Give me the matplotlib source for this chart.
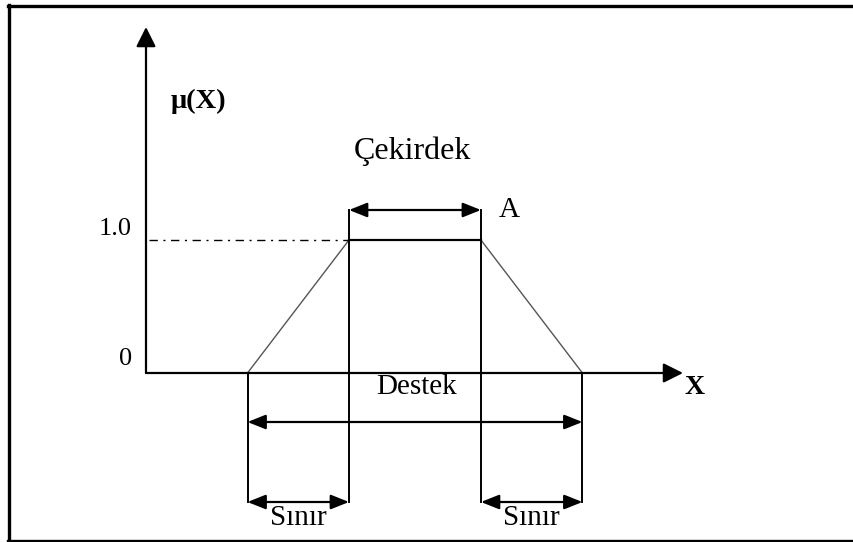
import matplotlib
matplotlib.use("Agg")
import matplotlib.pyplot as plt
from matplotlib.lines import Line2D

# ---- data (fuzzy trapezoidal membership function) ----
x_points = [1.0, 2.0, 3.3, 4.3]      # support start, core start, core end, support end
mu_points = [0.0, 1.0, 1.0, 0.0]
y_tick_labels = ["0", "1.0"]
y_tick_values = [0.0, 1.0]
label_core = "Çekirdek"
label_support = "Destek"
label_boundary = "Sınır"
label_set = "A"
label_mu = "μ(X)"
label_x = "X"

W, H, DPI = 854, 542, 100
fig = plt.figure(figsize=(W / DPI, H / DPI), dpi=DPI)
ax = fig.add_axes([0, 0, 1, 1])

# pixel <-> data mapping used for layout
X0_PX, X_SCALE = 146.0, 101.5
Y0_PX, Y_SCALE = 373.0, 133.0
def dx(px):
    return (px - X0_PX) / X_SCALE
def dy(py):
    return (Y0_PX - py) / Y_SCALE

ax.set_xlim(dx(0), dx(W))
ax.set_ylim(dy(H), dy(0))
ax.axis("off")

serif = ["Liberation Serif", "DejaVu Serif"]
fs = 21

# axes with arrows
ax_style = dict(arrowstyle="-|>,head_length=0.6,head_width=0.3", color="black",
                lw=1.6, shrinkA=0, shrinkB=0, mutation_scale=20)
ax.annotate("", xy=(0, dy(27)), xytext=(0, 0), arrowprops=ax_style)
ax.annotate("", xy=(dx(683), 0), xytext=(0, 0), arrowprops=ax_style)

# trapezoid
ax.plot(x_points[0:2], mu_points[0:2], color="#555555", lw=1.0)
ax.plot(x_points[2:4], mu_points[2:4], color="#555555", lw=1.0)
ax.plot(x_points[1:3], mu_points[1:3], color="black", lw=1.6)

# dash-dot guide at mu = 1
ax.plot([dx(149), x_points[1]], [1.0, 1.0], color="black", lw=1.0,
        linestyle=(0, (6, 4, 1.5, 4)))

# vertical guides
y_core_arrow = dy(210)
y_supp_arrow = dy(422)
y_bound_arrow = dy(502)
for xv in (x_points[1], x_points[2]):
    ax.plot([xv, xv], [y_core_arrow, y_bound_arrow], color="black", lw=1.4)
for xv in (x_points[0], x_points[3]):
    ax.plot([xv, xv], [0, y_bound_arrow], color="black", lw=1.4)

dbl = dict(arrowstyle="<|-|>,head_length=0.55,head_width=0.22", color="black",
           lw=1.6, shrinkA=0, shrinkB=0, mutation_scale=20)
ax.annotate("", xy=(x_points[1], y_core_arrow), xytext=(x_points[2], y_core_arrow), arrowprops=dbl)
ax.annotate("", xy=(x_points[0], y_supp_arrow), xytext=(x_points[3], y_supp_arrow), arrowprops=dbl)
ax.annotate("", xy=(x_points[0], y_bound_arrow), xytext=(x_points[1], y_bound_arrow), arrowprops=dbl)
ax.annotate("", xy=(x_points[2], y_bound_arrow), xytext=(x_points[3], y_bound_arrow), arrowprops=dbl)

# texts
ax.text(dx(412), dy(151), label_core, family=serif, fontsize=fs + 2, ha="center", va="center")
ax.text(dx(417), dy(387), label_support, family=serif, fontsize=fs, ha="center", va="center")
ax.text((x_points[0] + x_points[1]) / 2, dy(518), label_boundary, family=serif, fontsize=fs,
        ha="center", va="center")
ax.text((x_points[2] + x_points[3]) / 2, dy(518), label_boundary, family=serif, fontsize=fs,
        ha="center", va="center")
ax.text(dx(509), dy(210), label_set, family=serif, fontsize=fs, ha="center", va="center")
ax.text(dx(198), dy(101), label_mu, family=serif, fontsize=fs - 0.5, fontweight="bold",
        ha="center", va="center")
ax.text(dx(695), dy(387), label_x, family=serif, fontsize=fs - 1, fontweight="bold",
        ha="center", va="center")
for v, lab in zip(y_tick_values, y_tick_labels):
    ypx = 359 if v == 0 else 229
    ax.text(dx(132), dy(ypx), lab, family=serif, fontsize=fs - 2, ha="right", va="center")

# outer frame (left, top, bottom; no right edge)
fx = lambda px: px / W
fy = lambda py: 1 - py / H
fig.add_artist(Line2D([fx(9), fx(9)], [fy(5), fy(541)], color="black", lw=2.4))
fig.add_artist(Line2D([fx(8), 1.0], [fy(6), fy(6)], color="black", lw=2.4))
fig.add_artist(Line2D([fx(8), 1.0], [fy(540.5), fy(540.5)], color="black", lw=2.4))

fig.savefig("out.png", dpi=DPI)
